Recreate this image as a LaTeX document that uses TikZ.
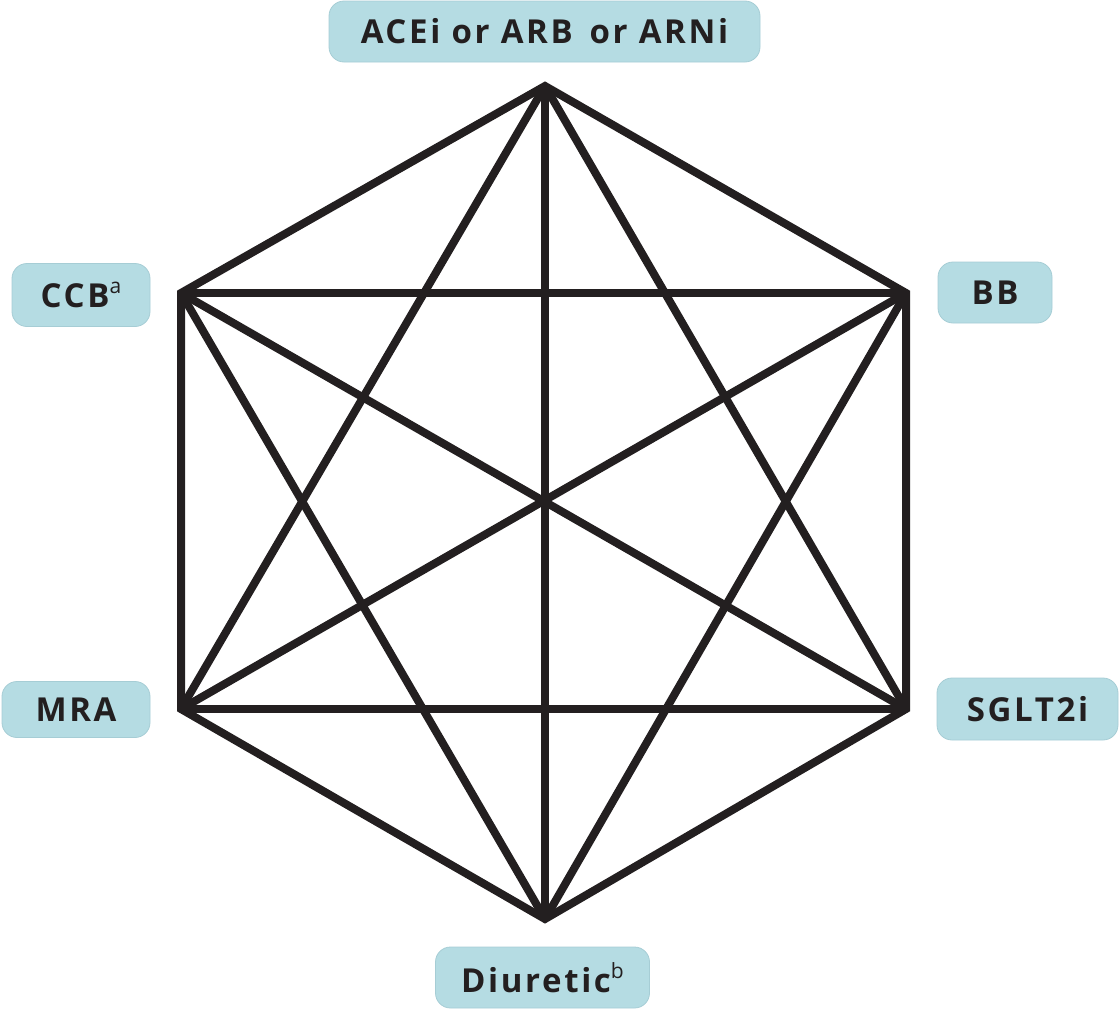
\documentclass[tikz,border=0pt]{standalone}
\usepackage{fontspec}
\setmainfont{Open Sans}
\newfontfamily\labfont[LetterSpace=8]{Open Sans Bold}
\newfontfamily\supfont{Open Sans}
\definecolor{boxfill}{HTML}{B5DCE3}
\definecolor{boxedge}{HTML}{A6CDD5}
\definecolor{ink}{HTML}{231F20}
\newcommand{\sps}[1]{\raisebox{0.43em}{\supfont\fontsize{21}{24}\selectfont #1}}
\begin{document}
\begin{tikzpicture}[x=1pt,y=-1pt,
  lab/.style={draw=boxedge, line width=0.8pt, fill=boxfill, rounded corners=15pt, inner sep=0pt,
    text=ink, font=\labfont\fontsize{33}{38}\selectfont},
  edge/.style={draw=ink, line width=8pt, line join=miter}]
\useasboundingbox (0,0) rectangle (1120,1012);
% vertices
\coordinate (T) at (545,86);
\coordinate (UR) at (906,293);
\coordinate (LR) at (906,709);
\coordinate (B) at (545,919);
\coordinate (LL) at (181,709);
\coordinate (UL) at (181,293);
% complete graph
\draw[edge] (T) -- (UR) -- (LR) -- (B) -- (LL) -- (UL) -- cycle;
\draw[edge] (T) -- (LR);
\draw[edge] (T) -- (LL);
\draw[edge] (T) -- (B);
\draw[edge] (UR) -- (B);
\draw[edge] (UR) -- (UL);
\draw[edge] (UR) -- (LL);
\draw[edge] (LR) -- (LL);
\draw[edge] (LR) -- (UL);
\draw[edge] (B) -- (UL);
% labels
\node[lab, minimum width=431pt, minimum height=61pt] (acei) at (544.5,31.5) {ACEi or ARB\, or ARNi};
\node[lab, minimum width=138pt, minimum height=63pt] (ccb) at (81,295) {CCB\sps{a}};
\node[lab, minimum width=114pt, minimum height=61pt] (bb) at (995,292.5) {BB};
\node[lab, minimum width=148pt, minimum height=56pt] (mra) at (76,709.5) {MRA};
\node[lab, minimum width=181pt, minimum height=62pt] (sglt) at (1027.5,709) {SGLT2i};
\node[lab, minimum width=214pt, minimum height=61pt] (diur) at (542.5,977.5) {Diuretic\sps{b}};
\end{tikzpicture}
\end{document}
